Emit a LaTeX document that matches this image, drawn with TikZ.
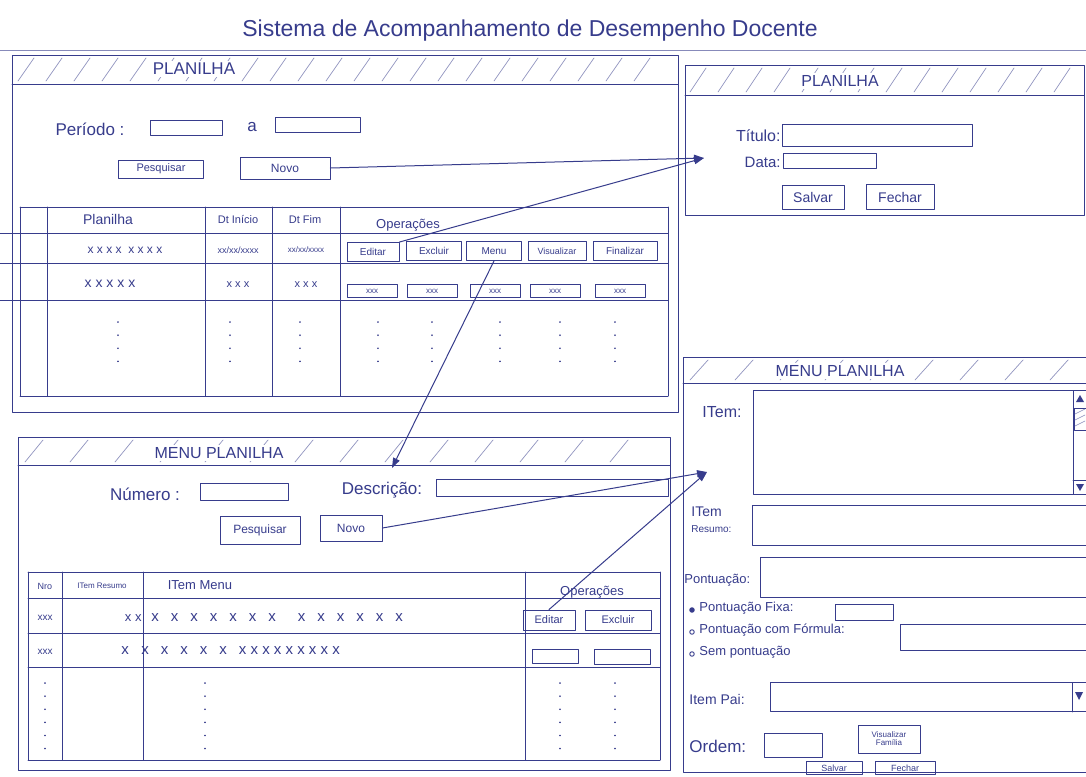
\documentclass[tikz,border=0pt]{standalone}
\usepackage{fontspec}
\setmainfont{Liberation Sans}
\usetikzlibrary{arrows.meta}
\definecolor{ink}{RGB}{55,60,140}
\newcommand\hsz[1]{\fontsize{#1}{#1}\selectfont}
\newcommand\xg{\hspace{12pt}}
\begin{document}
\begin{tikzpicture}[x=1pt,y=-1pt,color=ink,line width=0.9pt,line cap=round,line join=round,
  lbl/.style={inner sep=1pt},
  fld/.style={draw,rectangle,inner sep=0pt},
  btn/.style={draw,rectangle,inner sep=1pt,font=\hsz{10}},
  hdr/.style={fill=white,inner sep=2pt,font=\hsz{16}},
  arr/.style={-{Triangle[length=10pt,width=7pt]},line width=1pt},
  grid/.style={line width=0.8pt},
  hatch/.style={ink!55,line width=0.7pt},
  dots/.style={dash pattern=on 0.1pt off 13pt,line width=1.6pt,line cap=round}]
\fill[white] (0,0) rectangle (1086,776);
\useasboundingbox (0,0) rectangle (1086,776);

% page title and rule
\node[font=\hsz{23}] (title) at (530,31) {Sistema de Acompanhamento de Desempenho Docente};
\draw[ink!60,line width=0.7pt] (0,50) -- (1086,50);

% ---------- window: PLANILHA (list) ----------
\draw (12,55) rectangle (678,412);
\draw (12,84) -- (678,84);
\foreach \x in {18,46,...,650} \draw[hatch] (\x,81) -- (\x+16,58);
\node[hdr,font=\hsz{17}] (w1title) at (194,69) {PLANILHA};

\node[lbl,font=\hsz{17}] (lper) at (90,129) {Período :};
\node[fld,minimum width=72,minimum height=15] (per1) at (186,128) {};
\node[lbl,font=\hsz{17}] (la) at (252,127) {a};
\node[fld,minimum width=85,minimum height=15] (per2) at (318,125) {};
\node[btn,minimum width=85,minimum height=18,font=\hsz{11}] (pesq1) at (161,169) {Pesquisar};
\node[btn,minimum width=90,minimum height=22,font=\hsz{12}] (novo1) at (285,168) {Novo};

\draw[grid] (20,207) -- (668,207);
\foreach \y in {233,263,300} \draw[grid] (0,\y) -- (668,\y);
\draw[grid] (20,396) -- (668,396);
\foreach \x in {20,47,205,272,340,668} \draw[grid] (\x,207) -- (\x,396);

\node[lbl,font=\hsz{14}] (h1a) at (108,219) {Planilha};
\node[lbl,font=\hsz{11}] (h1b) at (238,220) {Dt Início};
\node[lbl,font=\hsz{11}] (h1c) at (305,220) {Dt Fim};
\node[lbl,font=\hsz{13}] (h1d) at (408,225) {Operações};

\node[lbl,font=\hsz{12}] (r1a) at (125,250) {x x x x \ x x x x};
\node[lbl,font=\hsz{9}] (r1b) at (238,250) {xx/xx/xxxx};
\node[lbl,font=\hsz{8}] (r1c) at (306,250) {xx/xx/xxxx};
\node[btn,minimum width=52,minimum height=19] (edit1) at (373,252) {Editar};
\node[btn,minimum width=55,minimum height=19] (excl1) at (434,251) {Excluir};
\node[btn,minimum width=55,minimum height=19] (menu1) at (494,251) {Menu};
\node[btn,minimum width=58,minimum height=19,font=\hsz{9}] (vis1) at (557,251) {Visualizar};
\node[btn,minimum width=64,minimum height=19] (fin1) at (625,251) {Finalizar};

\node[lbl,font=\hsz{14}] (r2a) at (110,284) {x x x x x};
\node[lbl,font=\hsz{11}] (r2b) at (238,285) {x x x};
\node[lbl,font=\hsz{11}] (r2c) at (306,285) {x x x};
\foreach \x/\n in {372/a,432/b,495/c,555/d,620/e}
  \node[btn,minimum width=50,minimum height=13,font=\hsz{8}] (s1\n) at (\x,291) {xxx};

\foreach \x in {118,230,300,378,432,500,560,615} \draw[dots] (\x,322) -- (\x,362);

% ---------- window: MENU PLANILHA (list) ----------
\draw (18,437) rectangle (670,770);
\draw (18,465) -- (670,465);
\foreach \x in {25,70,...,650} \draw[hatch] (\x,462) -- (\x+18,440);
\node[hdr] (w2title) at (219,453) {MENU PLANILHA};

\node[lbl,font=\hsz{17}] (lnum) at (145,494) {Número :};
\node[fld,minimum width=88,minimum height=17] (num) at (244,492) {};
\node[lbl,font=\hsz{17}] (ldesc) at (382,490) {Descrição:};
\node[fld,minimum width=232,minimum height=17] (desc) at (552,488) {};
\node[btn,minimum width=80,minimum height=28,font=\hsz{12}] (pesq2) at (260,530) {Pesquisar};
\node[btn,minimum width=62,minimum height=26,font=\hsz{12}] (novo2) at (351,528) {Novo};

\foreach \y in {572,598,633,667,760} \draw[grid] (28,\y) -- (660,\y);
\foreach \x in {28,62,143,525,660} \draw[grid] (\x,572) -- (\x,760);

\node[lbl,font=\hsz{9}] (h2a) at (45,586) {Nro};
\node[lbl,font=\hsz{8}] (h2b) at (102,586) {ITem Resumo};
\node[lbl,font=\hsz{13}] (h2c) at (200,585) {ITem Menu};
\node[lbl,font=\hsz{13}] (h2d) at (592,592) {Operações};

\node[lbl,font=\hsz{10}] (m1a) at (45,618) {xxx};
\node[lbl,font=\hsz{13},anchor=east] (m1b) at (143,618) {x x};
\node[lbl,font=\hsz{15},anchor=west] (m1c) at (150,618) {x\xg x\xg x\xg x\xg x\xg x\xg x\hspace{22pt}x\xg x\xg x\xg x\xg x\xg x};
\node[btn,minimum width=52,minimum height=20,font=\hsz{11}] (edit2) at (549,620) {Editar};
\node[btn,minimum width=66,minimum height=20,font=\hsz{11}] (excl2) at (618,620) {Excluir};

\node[lbl,font=\hsz{10}] (m2a) at (45,652) {xxx};
\node[lbl,font=\hsz{15}] (m2b) at (125,651) {x};
\node[lbl,font=\hsz{15},anchor=west] (m2c) at (140,651) {x\xg x\xg x\xg x\xg x\xg x x x x x x x x x};
\node[fld,minimum width=46,minimum height=14] (e2a) at (555,656) {};
\node[fld,minimum width=56,minimum height=15] (e2b) at (622,657) {};

\foreach \x in {45,205,560,615} \draw[dots] (\x,683) -- (\x,755);

% ---------- window: PLANILHA (form) ----------
\draw (685,65) rectangle (1084,215);
\draw (685,95) -- (1084,95);
\foreach \x in {690,718,...,1070} \draw[hatch] (\x,92) -- (\x+16,68);
\node[hdr] (w3title) at (840,81) {PLANILHA};

\node[lbl,font=\hsz{16},anchor=east] (ltit) at (782,136) {Título:};
\node[fld,minimum width=190,minimum height=22] (tit) at (877,135) {};
\node[lbl,font=\hsz{15},anchor=east] (ldata) at (782,162) {Data:};
\node[fld,minimum width=93,minimum height=15] (data) at (830,161) {};
\node[btn,minimum width=62,minimum height=24,font=\hsz{14}] (salv1) at (813,197) {Salvar};
\node[btn,minimum width=68,minimum height=25,font=\hsz{14}] (fech1) at (900,197) {Fechar};

% ---------- window: MENU PLANILHA (form) ----------
\draw (1086,357) -- (683,357) -- (683,772) -- (1086,772);
\draw (683,383) -- (1086,383);
\foreach \x in {690,735,...,1070} \draw[hatch] (\x,380) -- (\x+18,360);
\node[hdr] (w4title) at (840,371) {MENU PLANILHA};

\node[lbl,font=\hsz{16}] (litem) at (722,412) {ITem:};
\node[fld,minimum width=320,minimum height=104] (item) at (913,442) {};
\draw (1073,390) rectangle (1086,494);
\fill (1076,402) -- (1084,402) -- (1080,395) -- cycle;
\draw (1074,408) rectangle (1086,430);
\foreach \y in {414,420,426} \draw[ink!60,line width=0.6pt] (1075,\y) -- (1085,\y-5);
\draw (1073,480) -- (1086,480);
\fill (1076,484) -- (1084,484) -- (1080,491) -- cycle;

\node[lbl,font=\hsz{14},anchor=west] (lres1) at (690,512) {ITem};
\node[lbl,font=\hsz{10},anchor=west] (lres2) at (690,529) {Resumo:};
\node[fld,minimum width=334,minimum height=40] (res) at (919,525) {};

\node[lbl,font=\hsz{13},anchor=west] (lpont) at (683,580) {Pontuação:};
\node[fld,minimum width=326,minimum height=40] (pont) at (923,577) {};

\node[circle,draw,fill=ink,inner sep=1.6pt] (rad1) at (692,610) {};
\node[lbl,font=\hsz{13},anchor=west] (lfixa) at (698,608) {Pontuação Fixa:};
\node[fld,minimum width=58,minimum height=16] (fixa) at (864,612) {};
\node[circle,draw,inner sep=1.6pt] (rad2) at (692,632) {};
\node[lbl,font=\hsz{13},anchor=west] (lform) at (698,630) {Pontuação com Fórmula:};
\node[fld,minimum width=190,minimum height=26] (form) at (995,637) {};
\node[circle,draw,inner sep=1.6pt] (rad3) at (692,654) {};
\node[lbl,font=\hsz{13},anchor=west] (lsem) at (698,652) {Sem pontuação};

\node[lbl,font=\hsz{14},anchor=west] (lpai) at (688,699) {Item Pai:};
\node[fld,minimum width=316,minimum height=29] (pai) at (928,697) {};
\draw (1072,683) -- (1072,712);
\fill (1075,692) -- (1083,692) -- (1079,700) -- cycle;

\node[lbl,font=\hsz{17},anchor=west] (lord) at (688,746) {Ordem:};
\node[fld,minimum width=58,minimum height=24] (ord) at (793,745) {};
\node[btn,minimum width=62,minimum height=28,font=\hsz{8},align=center] (visf) at (889,739) {Visualizar\\Família};
\node[btn,minimum width=56,minimum height=13,font=\hsz{9}] (salv2) at (834,768) {Salvar};
\node[btn,minimum width=60,minimum height=13,font=\hsz{9}] (fech2) at (905,768) {Fechar};

% ---------- navigation arrows ----------
\coordinate (tipA) at (704,158);
\coordinate (tipB) at (392,468);
\coordinate (tipC) at (707,472);
\draw[arr] (novo1.east) -- (tipA);
\draw[arr] (edit1.north east) -- (tipA);
\draw[arr] (menu1.south) -- (tipB);
\draw[arr] (novo2.east) -- (tipC);
\draw[arr] (edit2.north) -- (tipC);
\end{tikzpicture}
\end{document}
